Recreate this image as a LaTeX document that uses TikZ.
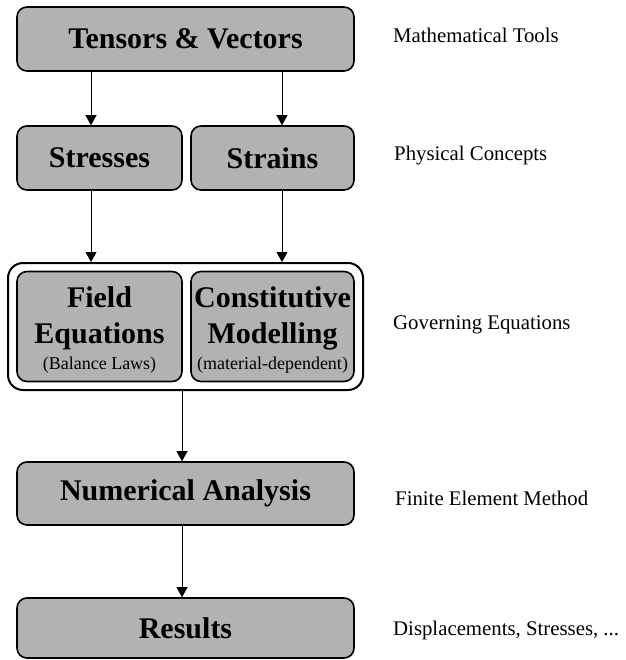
\documentclass[tikz,border=0pt]{standalone}
\usepackage{fontspec}
\setmainfont{Liberation Serif}
\usetikzlibrary{arrows.meta}
\definecolor{boxgray}{gray}{0.70}
\tikzset{
  box/.style={draw=black, line width=1.6pt, fill=boxgray, rounded corners=10pt,
    inner sep=0pt, align=center, font=\fontsize{30}{36}\selectfont\bfseries},
  outerbox/.style={draw=black, line width=2pt, rounded corners=15pt, inner sep=0pt},
  side/.style={anchor=base west, inner sep=0pt, font=\fontsize{20.8}{24}\selectfont},
  arr/.style={draw=black, line width=0.9pt, -{Triangle[width=11pt,length=10pt]}},
}
\begin{document}
\begin{tikzpicture}[x=1pt,y=-1pt]
\useasboundingbox (0,0) rectangle (625,660);
% boxes
\node[box, minimum width=337pt, minimum height=64pt] (tv) at (185.5,39) {Tensors \& Vectors};
\node[box, minimum width=165pt, minimum height=64pt] (stresses) at (99.5,158) {Stresses};
\node[box, minimum width=163pt, minimum height=64pt] (strains) at (272.5,158) {Strains};
\node[outerbox, minimum width=355pt, minimum height=127pt] (gov) at (185.5,326.5) {};
\node[box, minimum width=165pt, minimum height=110pt] (field) at (99.5,326.5)
  {\rule{0pt}{28pt}Field\\Equations\\[-10pt]{\fontsize{18}{20}\selectfont\mdseries (Balance Laws)}};
\node[box, minimum width=163pt, minimum height=110pt] (const) at (272.5,326.5)
  {\rule{0pt}{28pt}Constitutive\\Modelling\\[-10pt]{\fontsize{18}{20}\selectfont\mdseries (material-dependent)}};
\node[box, minimum width=337pt, minimum height=63pt] (na) at (185.5,493.5) {Numerical Analysis};
\node[box, minimum width=337pt, minimum height=60pt] (res) at (185.5,628) {Results};
% side labels
\node[side] (l1) at (393,43) {Mathematical Tools};
\node[side] (l2) at (394,161) {Physical Concepts};
\node[side] (l3) at (393,329) {Governing Equations};
\node[side] (l4) at (395,505) {Finite Element Method};
\node[side] (l5) at (393,635) {Displacements, Stresses, ...};
% arrows
\draw[arr] ([xshift=-94.5pt]tv.south) -- ([xshift=-8.5pt]stresses.north);
\draw[arr] ([xshift=96.5pt]tv.south) -- ([xshift=9.5pt]strains.north);
\draw[arr] ([xshift=-8.5pt]stresses.south) -- ([xshift=-94.5pt]gov.north);
\draw[arr] ([xshift=9.5pt]strains.south) -- ([xshift=96.5pt]gov.north);
\draw[arr] ([xshift=-3.5pt]gov.south) -- ([xshift=-3.5pt]na.north);
\draw[arr] ([xshift=-3.5pt]na.south) -- ([xshift=-3.5pt]res.north);
\end{tikzpicture}
\end{document}
